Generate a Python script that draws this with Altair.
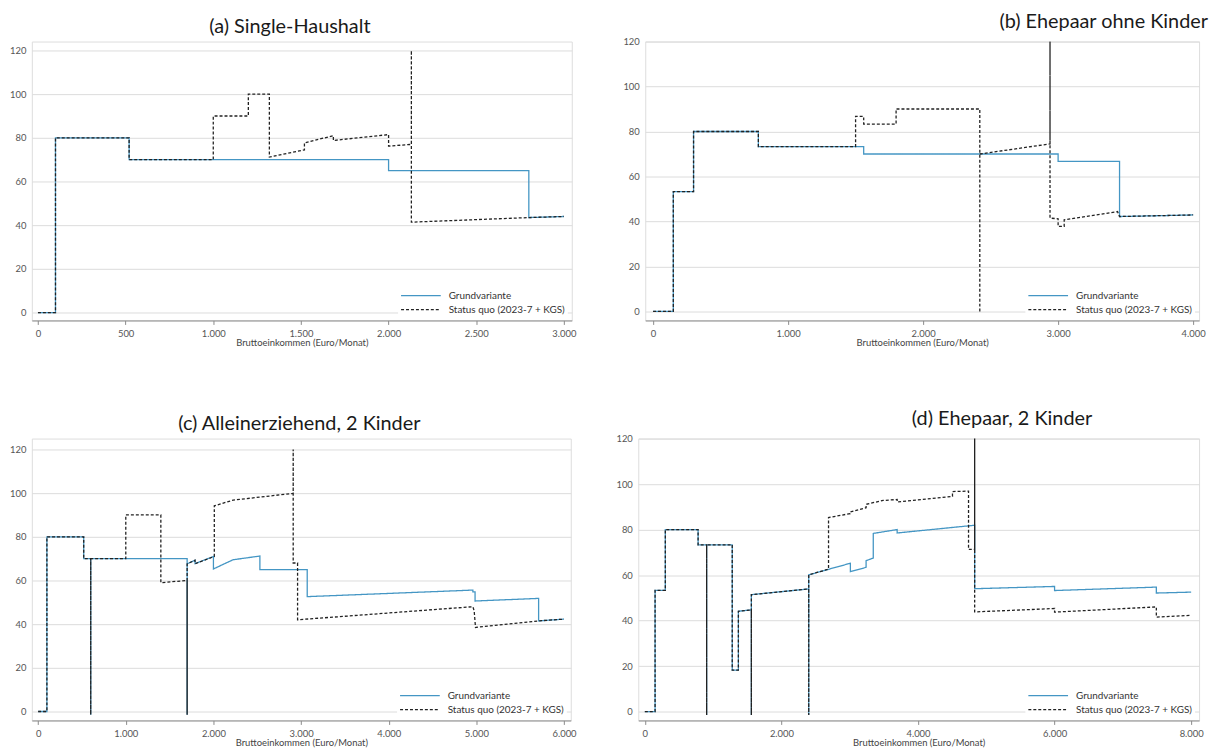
import altair as alt
import pandas as pd

SERIES = ["Grundvariante", "Status quo (2023-7 + KGS)"]
BLUE = "#4496c4"
BLACK = "#222222"
X_TITLE = "Bruttoeinkommen (Euro/Monat)"

# (a) Single-Haushalt
A_GRUND_X = [0, 100, 100, 520, 520, 2000, 2000, 2800, 2800, 3000]
A_GRUND_Y = [0, 0, 80, 80, 70, 70, 65, 65, 43.5, 44]
A_SQ_X = [0, 100, 100, 520, 520, 1000, 1000, 1200, 1200, 1320, 1320, 1520, 1520, 1685, 1685,
          2000, 2000, 2130, 2130, 2130, 2800, 3000]
A_SQ_Y = [0, 0, 80, 80, 70, 70, 90, 90, 100, 100, 71.2, 74.5, 77.7, 81, 78.8,
          81.5, 76.2, 77, 120, 41.4, 43.5, 44]
A_SQ_BREAKS = []
A_TICKS = [0, 500, 1000, 1500, 2000, 2500, 3000]

# (b) Ehepaar ohne Kinder
B_GRUND_X = [0, 150, 150, 300, 300, 780, 780, 1560, 1560, 3000, 3000, 3455, 3455, 4000]
B_GRUND_Y = [0, 0, 53.3, 53.3, 80, 80, 73.3, 73.3, 70, 70, 66.7, 66.7, 42.2, 42.9]
B_SQ_X = [0, 150, 150, 300, 300, 780, 780, 1500, 1500, 1560, 1560, 1800, 1800, 2420, 2420, 2420,
          2940, 2940, 2940, 3000, 3000, 3045, 3045, 3440, 3455, 4000]
B_SQ_Y = [0, 0, 53.3, 53.3, 80, 80, 73.3, 73.3, 86.7, 86.7, 83.3, 83.3, 90, 90, 0, 70,
          74.5, 300, 41.5, 41.2, 37.8, 37.8, 40.7, 44.4, 42.2, 42.9]
B_SQ_BREAKS = [15]
B_TICKS = [0, 1000, 2000, 3000, 4000]

# (c) Alleinerziehend, 2 Kinder
C_GRUND_X = [0, 100, 100, 520, 520, 600, 600, 600, 1700, 1700, 1700, 1790, 1790, 2000, 2000,
             2225, 2530, 2530, 3070, 3070, 4960, 4960, 4985, 4985, 5710, 5710, 6000]
C_GRUND_Y = [0, 0, 80, 80, 70, 70, -1.5, 70, 70, -1.5, 67.6, 69.3, 67.7, 71, 65.3,
             69.5, 71.2, 65, 65, 52.6, 55.6, 54.8, 54.8, 50.6, 51.8, 41.5, 42.3]
C_SQ_X = [0, 100, 100, 520, 520, 600, 600, 600, 1000, 1000, 1400, 1400, 1700, 1700, 1700,
          1790, 1790, 2010, 2010, 2225, 2910, 2910, 2910, 2960, 2960, 4960, 4975, 4990, 5710, 6000]
C_SQ_Y = [0, 0, 80, 80, 70, 70, -1.5, 70, 70, 90, 90, 59, 60, -1.5, 67.6,
          69.3, 67.7, 71, 94.2, 96.8, 99.9, 120, 68, 68, 42, 48, 46, 38.5, 41.5, 42.3]
C_SQ_BREAKS = []
C_TICKS = [0, 1000, 2000, 3000, 4000, 5000, 6000]

# (d) Ehepaar, 2 Kinder
D_GRUND_X = [0, 150, 150, 300, 300, 780, 780, 905, 905, 905, 1280, 1280, 1370, 1370, 1560,
             1560, 1560, 2400, 2400, 2400, 3010, 3010, 3240, 3240, 3345, 3345, 3695, 3695,
             4830, 4830, 6000, 6000, 7490, 7490, 8000]
D_GRUND_Y = [0, 0, 53.3, 53.3, 80, 80, 73.3, 73.3, -1.5, 73.3, 73.3, 18.2, 18.2, 44.1, 44.7,
             -1.5, 51.4, 53.9, -1.5, 60.1, 65.2, 61.5, 63.4, 66.3, 67.5, 78.3, 80, 78.5,
             81.9, 54, 55, 53.2, 54.7, 52.1, 52.5]
D_SQ_X = [0, 150, 150, 300, 300, 780, 780, 905, 905, 905, 1280, 1280, 1370, 1370, 1560,
          1560, 1560, 2400, 2400, 2400, 2690, 2690, 3005, 3005, 3240, 3240, 3490, 3695, 3695,
          4505, 4505, 4740, 4740, 4830, 4830, 4830, 6000, 6000, 7490, 7490, 8000]
D_SQ_Y = [0, 0, 53.3, 53.3, 80, 80, 73.3, 73.3, -1.5, 73.3, 73.3, 18.2, 18.2, 44.1, 44.7,
          -1.5, 51.4, 53.9, -1.5, 60.1, 62.6, 85.3, 87, 87.7, 89.6, 91.1, 92.8, 93.2, 92.1,
          94.6, 96.7, 96.9, 71.3, 71.3, 300, 43.8, 45.3, 43.7, 46, 41.5, 42.3]
D_SQ_BREAKS = []
D_TICKS = [0, 2000, 4000, 6000, 8000]

Y_TICKS = [0, 20, 40, 60, 80, 100, 120]

FONT = "Lato"


def make_df(gx, gy, sx, sy, sbreaks):
    rows = []
    for i, (x, y) in enumerate(zip(gx, gy)):
        rows.append({"x": x, "y": y, "s": SERIES[0], "i": i, "seg": "g0"})
    for i, (x, y) in enumerate(zip(sx, sy)):
        seg = sum(1 for b in sbreaks if i >= b)
        rows.append({"x": x, "y": y, "s": SERIES[1], "i": i, "seg": "s%d" % seg})
    return pd.DataFrame(rows)


def panel(df, title, xdom, ydom, xticks, w, h, anchor, dx, offset):
    legend = alt.Legend(
        title=None, orient="bottom-right", fillColor="white", symbolType="M-1,0H4",
        symbolSize=256, symbolStrokeWidth=1.3, labelFont=FONT, labelFontSize=10,
        labelColor="#333333", rowPadding=0, padding=2, offset=4, labelOffset=31,
    )
    return alt.Chart(df).mark_line(clip=True, strokeWidth=1.3).encode(
        x=alt.X("x:Q",
                scale=alt.Scale(domain=xdom, nice=False, zero=False),
                axis=alt.Axis(values=xticks, title=X_TITLE, grid=False,
                              labelExpr="replace(format(datum.value, ','), ',', '.')",
                              labelFont=FONT, labelFontSize=9.5, labelColor="#555555",
                              titleFont=FONT, titleFontSize=9.5, titleColor="#444444",
                              titleFontWeight="normal", titlePadding=0,
                              domainColor="#8a8a8a", tickColor="#8a8a8a", tickSize=4,
                              labelPadding=4)),
        y=alt.Y("y:Q",
                scale=alt.Scale(domain=ydom, nice=False, zero=False),
                axis=alt.Axis(values=Y_TICKS, title=None, grid=True, domain=False, ticks=False,
                              gridColor="#dcdcdc", labelFont=FONT, labelFontSize=9.5,
                              labelColor="#555555", labelPadding=6)),
        color=alt.Color("s:N", scale=alt.Scale(domain=SERIES, range=[BLUE, BLACK]), legend=legend),
        strokeDash=alt.StrokeDash("s:N", scale=alt.Scale(domain=SERIES, range=[[1, 0], [3, 2]]),
                                  legend=legend),
        detail=alt.Detail("seg:N"),
        order=alt.Order("i:Q"),
    ).properties(
        width=w, height=h,
        title=alt.TitleParams(text=title, anchor=anchor, frame="group", dx=dx,
                              offset=offset, font=FONT, fontSize=20, fontWeight="normal",
                              color="#1a1a1a"),
    )


pa = panel(make_df(A_GRUND_X, A_GRUND_Y, A_SQ_X, A_SQ_Y, A_SQ_BREAKS), "(a) Single-Haushalt",
           [-35, 3045], [-3.6, 124.1], A_TICKS, 544, 281, "middle", -12, 5)
pb = panel(make_df(B_GRUND_X, B_GRUND_Y, B_SQ_X, B_SQ_Y, B_SQ_BREAKS), "(b) Ehepaar ohne Kinder",
           [-58, 4044], [-4, 120], B_TICKS, 558, 281, "end", 9, 5)
pc = panel(make_df(C_GRUND_X, C_GRUND_Y, C_SQ_X, C_SQ_Y, C_SQ_BREAKS), "(c) Alleinerziehend, 2 Kinder",
           [-72, 6077], [-4.1, 125], C_TICKS, 543, 284, "middle", -2, 5)
pd_ = panel(make_df(D_GRUND_X, D_GRUND_Y, D_SQ_X, D_SQ_Y, D_SQ_BREAKS), "(d) Ehepaar, 2 Kinder",
            [-96, 8116], [-3.9, 120], D_TICKS, 565, 284, "middle", 84, 5)

row1 = alt.hconcat(pa, pb, spacing=45).resolve_scale(color="independent", strokeDash="independent")
row2 = alt.hconcat(pc, pd_, spacing=38).resolve_scale(color="independent", strokeDash="independent")

chart = alt.vconcat(row1, row2, spacing=60).resolve_scale(
    color="independent", strokeDash="independent"
).configure_view(stroke=None).configure(padding={"left": 0, "top": 0, "right": 0, "bottom": 0})

chart.save("out.html", embed_options={"renderer": "svg", "actions": False})
